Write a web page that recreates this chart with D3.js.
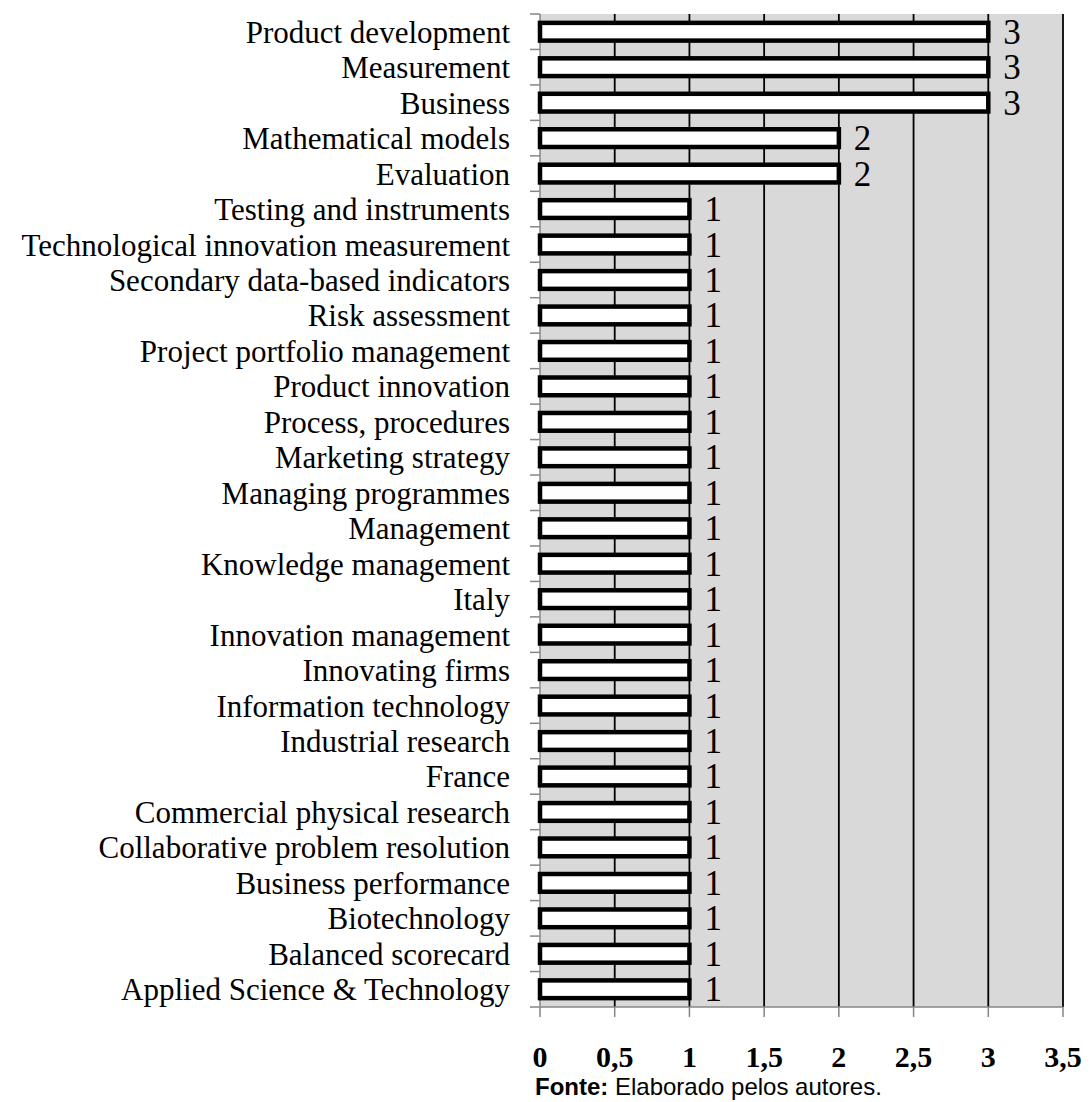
<!DOCTYPE html>
<html>
<head>
<meta charset="utf-8">
<script src="https://cdn.jsdelivr.net/npm/d3@7"></script>
<style>
  body { margin: 0; background: #fff; }
</style>
</head>
<body>
<script>
"use strict";

var categories = [
  "Product development", "Measurement", "Business", "Mathematical models", "Evaluation",
  "Testing and instruments", "Technological innovation measurement", "Secondary data-based indicators",
  "Risk assessment", "Project portfolio management", "Product innovation", "Process, procedures",
  "Marketing strategy", "Managing programmes", "Management", "Knowledge management", "Italy",
  "Innovation management", "Innovating firms", "Information technology", "Industrial research",
  "France", "Commercial physical research", "Collaborative problem resolution", "Business performance",
  "Biotechnology", "Balanced scorecard", "Applied Science & Technology"
];
var values = [3, 3, 3, 2, 2, 1, 1, 1, 1, 1, 1, 1, 1, 1, 1, 1, 1, 1, 1, 1, 1, 1, 1, 1, 1, 1, 1, 1];
var tickValues = [0, 0.5, 1, 1.5, 2, 2.5, 3, 3.5];
var tickLabels = ["0", "0,5", "1", "1,5", "2", "2,5", "3", "3,5"];

var width = 1090;
var height = 1102;
var plotLeft = 540, plotRight = 1063, plotTop = 14, plotBottom = 1007;

var svg = d3.select("body").append("svg").attr("width", width).attr("height", height);

var xScale = d3.scaleLinear().domain([0, 3.5]).range([plotLeft, plotRight]);
var yScale = d3.scaleBand().domain(categories).range([plotTop, plotBottom]).paddingInner(0.5).paddingOuter(0.25);
var step = yScale.step();

// plot background
svg.append("rect").attr("x", plotLeft).attr("y", plotTop)
  .attr("width", plotRight - plotLeft).attr("height", plotBottom - plotTop)
  .attr("fill", "#d9d9d9");

// vertical gridlines
svg.append("g").selectAll("line").data(tickValues.slice(1)).enter().append("line")
  .attr("x1", function (d) { return xScale(d); }).attr("x2", function (d) { return xScale(d); })
  .attr("y1", plotTop).attr("y2", plotBottom)
  .attr("stroke", "#000").attr("stroke-width", 1.8);

// left axis with ticks at category boundaries
var boundaries = d3.range(categories.length + 1).map(function (i) { return plotTop + i * step; });
svg.append("line").attr("x1", plotLeft).attr("x2", plotLeft).attr("y1", plotTop).attr("y2", plotBottom)
  .attr("stroke", "#868686").attr("stroke-width", 1.5);
svg.append("g").selectAll("line").data(boundaries).enter().append("line")
  .attr("x1", plotLeft - 10).attr("x2", plotLeft)
  .attr("y1", function (d) { return d; }).attr("y2", function (d) { return d; })
  .attr("stroke", "#868686").attr("stroke-width", 1.5);

// bottom axis
svg.append("line").attr("x1", plotLeft).attr("x2", plotRight).attr("y1", plotBottom).attr("y2", plotBottom)
  .attr("stroke", "#868686").attr("stroke-width", 1.5);
svg.append("g").selectAll("line").data(tickValues).enter().append("line")
  .attr("x1", function (d) { return xScale(d); }).attr("x2", function (d) { return xScale(d); })
  .attr("y1", plotBottom).attr("y2", plotBottom + 10)
  .attr("stroke", "#868686").attr("stroke-width", 1.5);

// bars
svg.append("g").selectAll("rect").data(categories).enter().append("rect")
  .attr("x", xScale(0))
  .attr("y", function (d) { return yScale(d); })
  .attr("width", function (d, i) { return xScale(values[i]) - xScale(0); })
  .attr("height", yScale.bandwidth())
  .attr("fill", "#fff").attr("stroke", "#000").attr("stroke-width", 4.5);

// data labels
svg.append("g").selectAll("text").data(categories).enter().append("text")
  .attr("x", function (d, i) { return xScale(values[i]) + 15; })
  .attr("y", function (d) { return yScale(d) + yScale.bandwidth() / 2 + 12; })
  .attr("font-family", "'Liberation Serif', 'Times New Roman', serif")
  .attr("font-size", 35).attr("fill", "#000")
  .text(function (d, i) { return values[i]; });

// category labels
svg.append("g").selectAll("text").data(categories).enter().append("text")
  .attr("x", 510)
  .attr("y", function (d) { return yScale(d) + yScale.bandwidth() / 2 + 11; })
  .attr("text-anchor", "end")
  .attr("font-family", "'Liberation Serif', 'Times New Roman', serif")
  .attr("font-size", 31).attr("fill", "#000")
  .text(function (d) { return d; });

// x tick labels
svg.append("g").selectAll("text").data(tickValues).enter().append("text")
  .attr("x", function (d) { return xScale(d); })
  .attr("y", 1067)
  .attr("text-anchor", "middle")
  .attr("font-family", "'Liberation Serif', 'Times New Roman', serif")
  .attr("font-weight", "bold").attr("font-size", 30).attr("fill", "#000")
  .text(function (d, i) { return tickLabels[i]; });

// source note
var note = svg.append("text").attr("x", 535).attr("y", 1095)
  .attr("font-family", "'Liberation Sans', Arial, sans-serif").attr("font-size", 24).attr("fill", "#000");
note.append("tspan").attr("font-weight", "bold").text("Fonte:");
note.append("tspan").text(" Elaborado pelos autores.");
</script>
</body>
</html>
